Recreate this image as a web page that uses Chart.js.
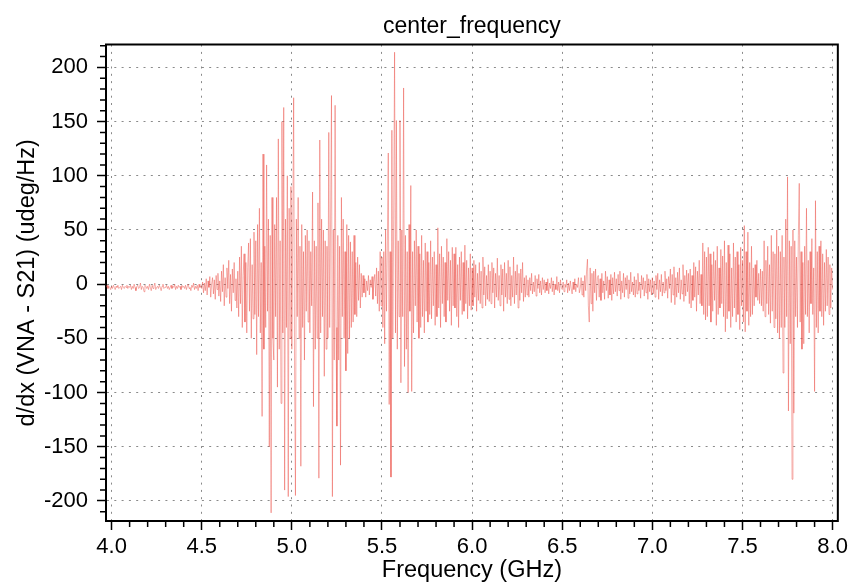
<!DOCTYPE html>
<html><head><meta charset="utf-8">
<script src="https://cdn.jsdelivr.net/npm/chart.js@4"></script>
<style>html,body{margin:0;padding:0;background:#fff;}canvas{display:block;}</style>
</head><body>
<canvas id="c" width="852" height="586"></canvas>
<script>
const chartTitle = 'center_frequency';
const xAxisTitle = 'Frequency (GHz)';
const yAxisTitle = 'd/dx (VNA - S21) (udeg/Hz)';
const xTickValues = [4.0, 4.5, 5.0, 5.5, 6.0, 6.5, 7.0, 7.5, 8.0];
const yTickValues = [-200, -150, -100, -50, 0, 50, 100, 150, 200];
const freqStartGHz = 3.970;
const freqStepGHz = 0.005;
// d/dx values (udeg/Hz), one row per 0.1 GHz
const derivValues = [
-3,-1,-4,-2,-3,-5,
-2,-4,-1,-3,-5,-2,-3,-1,-4,-3,-2,-5,-1,-3,-4,-2,-3,-1,-4,-2,
-3,-1,-5,-2,-4,0,-3,-6,-2,-1,-4,-3,1,-5,-2,-3,-7,-1,-2,-4,
-2,-5,0,-3,-6,-1,-4,-2,1,-5,-3,-2,-4,-1,-3,-6,-2,0,-4,-3,
-3,-1,-4,-2,-5,-3,-1,-4,-2,-3,0,-5,-2,-4,-1,-3,-2,-5,-1,-3,
-2,-4,-1,-5,-2,0,-4,-3,-6,-1,-3,1,-5,-2,-4,-1,-6,0,-3,-2,
-4,2,-8,1,-6,5,-10,3,-3,7,-12,0,6,-9,4,-14,8,-5,10,-11,
3,-16,12,-7,18,-20,6,-12,15,-4,22,-18,9,-25,14,-8,20,-15,5,-22,
12,-30,25,-18,35,-40,8,28,-35,20,-45,15,38,-25,42,-50,18,-32,48,-28,
40,-65,55,-30,70,-45,20,-122,120,-60,35,-40,110,-25,60,-150,45,-211,80,-50,
-70,55,-30,80,-95,134,-60,40,-110,150,-45,163,-190,60,-40,100,-196,70,-50,90,
-60,45,172,-70,-195,60,-30,80,-50,35,-168,55,-40,30,-70,45,-25,50,-35,40,
-45,30,-20,85,-113,40,-60,35,-50,75,-179,133,-45,60,-30,50,-85,40,-60,35,
-50,140,-40,60,174,-196,50,-70,165,-40,-131,45,-70,35,-167,80,-30,60,-50,30,
-80,55,-64,45,-50,39,-40,30,-35,45,-28,20,-30,25,-15,18,-22,10,-12,8,
-8,5,-12,3,-6,8,-10,4,-3,7,-14,2,9,-11,15,-18,12,-25,30,-20,
25,-40,30,-55,50,-25,40,121,-111,30,-178,142,-50,60,214,-45,151,-60,40,-30,
151,-91,50,-30,181,-76,45,-60,30,-100,55,-25,91,-99,30,-45,40,-20,50,-35,
35,-50,28,-40,45,-30,22,-45,38,-25,30,-35,20,-28,40,-32,25,-20,30,-38,
18,-30,52,-22,28,-40,35,-18,25,-30,20,-35,42,-15,30,-25,22,-38,34,-20,
28,-22,34,-30,18,-40,25,-15,30,-28,20,-25,36,-18,22,-32,15,-20,28,-24,
15,-20,22,-12,18,-25,10,-15,20,-18,12,-22,25,-10,16,-20,8,-14,18,-16,
12,-18,20,-8,15,-22,10,-12,24,-15,8,-20,18,-10,14,-25,20,-12,10,-18,
22,-14,16,-20,8,-12,25,-18,12,-10,18,-22,10,-15,14,-8,20,-16,6,-12,
8,-10,4,-12,6,-6,10,-9,2,-7,8,-11,5,-4,9,-8,3,-10,6,-5,
4,-8,2,-6,5,-9,1,-4,6,-7,3,-10,0,-5,7,-6,2,-8,4,-3,
-5,2,-7,0,-3,4,-8,1,-6,3,-4,-9,2,-5,5,-7,0,-3,6,-8,
-4,6,-10,3,-12,8,-6,12,23,-20,-35,15,-18,10,-25,12,-8,14,-15,6,
8,-12,5,-15,10,-8,3,-14,12,-6,7,-13,4,-10,9,-15,6,-9,11,-7,
5,-11,9,-6,12,-14,3,-8,10,-12,6,-5,8,-13,4,-9,11,-7,2,-10,
7,-12,4,-9,10,-6,2,-13,8,-5,6,-11,3,-8,9,-14,5,-7,4,-10,
6,-9,3,-12,8,-5,10,-14,4,-7,9,-11,2,-8,12,-6,5,-13,7,-4,
14,-17,9,-10,16,-19,6,-12,11,-8,15,-14,4,-9,18,-16,8,-11,13,-7,
10,-18,14,-22,8,-15,20,-12,16,-25,12,-10,22,-18,9,-20,38,-28,30,-33,
25,-30,34,-20,28,-35,18,-25,30,-15,22,-38,35,-28,15,-22,32,-18,26,-30,
40,-44,20,-32,36,-25,28,-40,15,-30,38,-22,25,-35,30,-28,18,-42,34,-20,
22,-35,54,-44,30,-25,48,-38,20,-30,35,-28,15,-20,18,-12,22,-15,10,-18,
14,-20,12,-25,40,-30,22,-18,35,-28,18,-36,45,-25,30,-40,28,-32,50,-45,
35,-50,30,-40,45,-82,25,-40,60,-30,99,-117,40,-55,35,-180,50,-119,40,-30,
25,-40,45,93,-35,30,-60,20,-55,35,-28,70,-30,22,-45,30,-18,42,-28,15,
-99,77,-40,30,-45,35,-25,40,-30,28,-38,20,-25,32,-20,25,-28,18,-22,15,
-5
];

const points = derivValues.map((v, i) => ({ x: +(freqStartGHz + i * freqStepGHz).toFixed(3), y: v }));
const FAMILY = "'Liberation Sans', Arial, Helvetica, sans-serif";

const framePlugin = {
  id: 'frameMinor',
  afterDraw(chart) {
    const { ctx, chartArea: a, scales } = chart;
    const xs = scales.x, ys = scales.y;
    ctx.save();
    ctx.strokeStyle = '#000';
    ctx.lineWidth = 1.5;
    ctx.beginPath();
    for (let k = 40; k <= 80; k++) {
      if (k % 5 === 0) continue;
      const px = xs.getPixelForValue(k / 10);
      ctx.moveTo(px, a.bottom); ctx.lineTo(px, a.bottom + 6);
    }
    for (let k = -22; k <= 22; k++) {
      if (k % 5 === 0) continue;
      const v = k * 10;
      if (v < ys.min || v > ys.max) continue;
      const py = ys.getPixelForValue(v);
      ctx.moveTo(a.left - 6, py); ctx.lineTo(a.left, py);
    }
    ctx.stroke();
    ctx.lineWidth = 2;
    ctx.beginPath();
    ctx.moveTo(a.left - 1, a.top);
    ctx.lineTo(a.right, a.top);
    ctx.lineTo(a.right, a.bottom + 1);
    ctx.stroke();
    ctx.restore();
  }
};

new Chart(document.getElementById('c'), {
  type: 'line',
  data: {
    datasets: [{
      data: points,
      borderColor: 'rgba(236,78,68,0.45)',
      borderWidth: 1,
      pointRadius: 0,
      tension: 0,
      fill: false
    }]
  },
  options: {
    responsive: false,
    animation: false,
    devicePixelRatio: 1,
    parsing: false,
    layout: { padding: { left: 0, right: 12, top: 0, bottom: 0 } },
    plugins: {
      legend: { display: false },
      tooltip: { enabled: false },
      title: {
        display: true, text: chartTitle, color: '#000', fullSize: false,
        font: { size: 23, weight: 'normal', family: FAMILY },
        padding: { top: 13, bottom: 4 }
      }
    },
    scales: {
      x: {
        type: 'linear', min: 3.969, max: 8.029,
        afterBuildTicks: s => { s.ticks = xTickValues.map(v => ({ value: v })); },
        afterFit: s => { s.height = 65; },
        ticks: { callback: v => Number(v).toFixed(1), color: '#000', font: { size: 22, family: FAMILY }, padding: 4, maxRotation: 0, autoSkip: false },
        grid: { color: '#8a8a8a', lineWidth: 1, tickLength: 9, tickColor: '#000', tickWidth: 1.5 },
        border: { display: true, color: '#000', width: 2, dash: [2, 5.3] },
        title: { display: true, text: xAxisTitle, color: '#000', font: { size: 23.5, family: FAMILY }, padding: { top: 0, bottom: 1 } }
      },
      y: {
        type: 'linear', min: -218.5, max: 221,
        afterBuildTicks: s => { s.ticks = yTickValues.map(v => ({ value: v })); },
        afterFit: s => { s.width = 106; },
        ticks: { callback: v => String(v), color: '#000', font: { size: 22, family: FAMILY }, padding: 9, autoSkip: false },
        grid: { color: '#8a8a8a', lineWidth: 1, tickLength: 9, tickColor: '#000', tickWidth: 1.5 },
        border: { display: true, color: '#000', width: 2, dash: [2, 5.3] },
        title: { display: true, text: yAxisTitle, color: '#000', font: { size: 23.5, family: FAMILY }, padding: { top: 13, bottom: 0 } }
      }
    }
  },
  plugins: [framePlugin]
});
</script>
</body></html>
